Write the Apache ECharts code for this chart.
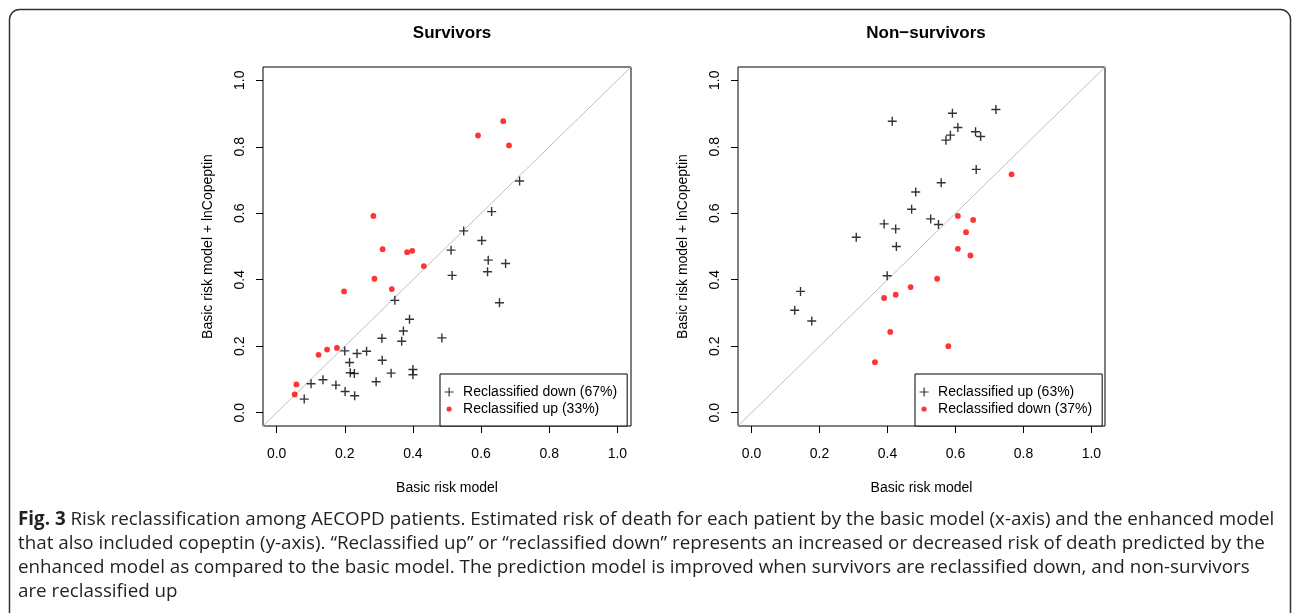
<!DOCTYPE html>
<html>
<head>
<meta charset="utf-8">
<script src="https://cdn.jsdelivr.net/npm/echarts@6/dist/echarts.min.js"></script>
<style>
html,body{margin:0;padding:0;background:#fff;}
#c{width:1292px;height:613px;}
</style>
</head>
<body>
<div id="c"></div>
<script>
// ---- data ----
const TICKS = [0, 0.2, 0.4, 0.6, 0.8, 1.0];
const AXIS_RANGE = [-0.04, 1.04];
const DIAGONAL = [[-0.04, -0.04], [1.04, 1.04]];

const titles = ['Survivors', 'Non\u2212survivors'];
const xTitle = 'Basic risk model';
const yTitle = 'Basic risk model + lnCopeptin';

const survivorsDownName = 'Reclassified down (67%)';
const survivorsUpName = 'Reclassified up (33%)';
const nonSurvivorsUpName = 'Reclassified up (63%)';
const nonSurvivorsDownName = 'Reclassified down (37%)';

// Survivors, reclassified down (crosses)
const survivorsDown = [
  [0.713, 0.697], [0.631, 0.605], [0.549, 0.547], [0.602, 0.518], [0.512, 0.489],
  [0.621, 0.459], [0.672, 0.449], [0.619, 0.424], [0.515, 0.413], [0.654, 0.331],
  [0.347, 0.338], [0.390, 0.281], [0.372, 0.246], [0.367, 0.215], [0.485, 0.225],
  [0.309, 0.224], [0.200, 0.186], [0.236, 0.178], [0.264, 0.185], [0.214, 0.151],
  [0.310, 0.158], [0.216, 0.120], [0.228, 0.118], [0.336, 0.119], [0.400, 0.130],
  [0.400, 0.114], [0.292, 0.093], [0.136, 0.099], [0.101, 0.087], [0.174, 0.083],
  [0.201, 0.064], [0.229, 0.051], [0.081, 0.041]
];
// Survivors, reclassified up (red dots)
const survivorsUp = [
  [0.665, 0.877], [0.591, 0.834], [0.682, 0.804], [0.284, 0.592], [0.311, 0.492],
  [0.383, 0.483], [0.398, 0.487], [0.432, 0.441], [0.287, 0.403], [0.338, 0.372],
  [0.198, 0.365], [0.177, 0.195], [0.148, 0.190], [0.123, 0.174], [0.058, 0.085],
  [0.053, 0.055]
];
// Non-survivors, reclassified up (crosses)
const nonSurvivorsUp = [
  [0.414, 0.877], [0.591, 0.901], [0.719, 0.912], [0.607, 0.858], [0.659, 0.845],
  [0.674, 0.831], [0.585, 0.835], [0.572, 0.820], [0.661, 0.732], [0.558, 0.692],
  [0.483, 0.664], [0.471, 0.612], [0.390, 0.568], [0.424, 0.553], [0.527, 0.583],
  [0.550, 0.566], [0.308, 0.528], [0.426, 0.500], [0.399, 0.412], [0.144, 0.365],
  [0.127, 0.308], [0.177, 0.276]
];
// Non-survivors, reclassified down (red dots)
const nonSurvivorsDown = [
  [0.765, 0.717], [0.607, 0.592], [0.652, 0.580], [0.631, 0.543], [0.607, 0.493],
  [0.644, 0.473], [0.546, 0.403], [0.468, 0.378], [0.424, 0.355], [0.390, 0.345],
  [0.408, 0.243], [0.579, 0.200], [0.363, 0.152]
];

const captionLines = [
  '{b|Fig. 3} Risk reclassification among AECOPD patients. Estimated risk of death for each patient by the basic model (x-axis) and the enhanced model',
  'that also included copeptin (y-axis). \u201cReclassified up\u201d or \u201creclassified down\u201d represents an increased or decreased risk of death predicted by the',
  'enhanced model as compared to the basic model. The prediction model is improved when survivors are reclassified down, and non-survivors',
  'are reclassified up'
];

// ---- styling ----
const FONT = 'Liberation Sans, Arial, Helvetica, sans-serif';
const CAP_FONT = 'Open Sans, Noto Sans, sans-serif';
const CROSS = 'path://M0,-1L0,1M-1,0L1,0';
const DOT_ICON = 'path://M-5,-5L-5,-5M5,5L5,5M2.9,0A2.9,2.9,0,1,1,-2.9,0A2.9,2.9,0,1,1,2.9,0Z';

const grids = [
  {left: 263, top: 67, width: 368, height: 359, show: true, borderColor: '#000', borderWidth: 1, backgroundColor: 'transparent'},
  {left: 738, top: 67, width: 367, height: 359, show: true, borderColor: '#000', borderWidth: 1, backgroundColor: 'transparent'}
];

function makeX(i) {
  return {
    type: 'value', gridIndex: i, min: AXIS_RANGE[0], max: AXIS_RANGE[1],
    name: xTitle, nameLocation: 'middle', nameGap: 55,
    nameTextStyle: {fontFamily: FONT, fontSize: 14, color: '#000'},
    axisLine: {show: false, onZero: false},
    axisTick: {show: true, length: 7, customValues: TICKS, lineStyle: {color: '#000', width: 1}},
    axisLabel: {customValues: TICKS, formatter: v => v.toFixed(1), margin: 21, fontFamily: FONT, fontSize: 14, color: '#000'},
    splitLine: {show: false}
  };
}
function makeY(i) {
  return {
    type: 'value', gridIndex: i, min: AXIS_RANGE[0], max: AXIS_RANGE[1],
    name: yTitle, nameLocation: 'middle', nameGap: 48,
    nameTextStyle: {fontFamily: FONT, fontSize: 14, color: '#000'},
    axisLine: {show: false, onZero: false},
    axisTick: {show: true, length: 7, customValues: TICKS, lineStyle: {color: '#000', width: 1}},
    axisLabel: {customValues: TICKS, formatter: v => v.toFixed(1), rotate: 90, margin: 16, fontFamily: FONT, fontSize: 14, color: '#000'},
    splitLine: {show: false}
  };
}

function diagSeries(i) {
  return {type: 'line', xAxisIndex: i, yAxisIndex: i, data: DIAGONAL, symbol: 'none', silent: true,
    lineStyle: {color: '#BEBEBE', width: 1}, z: 1};
}
function crossSeries(name, data, i) {
  return {type: 'scatter', name: name, xAxisIndex: i, yAxisIndex: i, data: data,
    symbol: CROSS, symbolSize: 9, silent: true,
    itemStyle: {color: 'transparent', borderColor: '#000', borderWidth: 1.4}, z: 3};
}
function dotSeries(name, data, i) {
  return {type: 'scatter', name: name, xAxisIndex: i, yAxisIndex: i, data: data,
    symbol: 'circle', symbolSize: 5.8, silent: true,
    itemStyle: {color: '#FF0000', borderWidth: 0}, z: 3};
}
function makeLegend(left, names, pad) {
  return {
    orient: 'vertical', left: left, top: 374, padding: pad,
    itemWidth: 18, itemHeight: 9, itemGap: 3,
    borderColor: '#000', borderWidth: 1, backgroundColor: '#fff',
    selectedMode: false,
    itemStyle: {borderWidth: 1.2},
    textStyle: {fontFamily: FONT, fontSize: 14, color: '#000', lineHeight: 14},
    data: [
      {name: names[0], icon: CROSS},
      {name: names[1], icon: DOT_ICON, itemStyle: {borderWidth: 0}}
    ]
  };
}

const chart = echarts.init(document.getElementById('c'), null, {renderer: 'canvas'});
chart.setOption({
  backgroundColor: '#fff',
  animation: false,
  title: [
    {text: titles[0], left: 447, top: 20, textAlign: 'center',
     textStyle: {fontFamily: FONT, fontSize: 17, fontWeight: 'bold', color: '#000'}},
    {text: titles[1], left: 921, top: 20, textAlign: 'center',
     textStyle: {fontFamily: FONT, fontSize: 17, fontWeight: 'bold', color: '#000'}}
  ],
  grid: grids,
  xAxis: [makeX(0), makeX(1)],
  yAxis: [makeY(0), makeY(1)],
  legend: [
    makeLegend(440, [survivorsDownName, survivorsUpName], [11, 10, 10, 4]),
    makeLegend(915, [nonSurvivorsUpName, nonSurvivorsDownName], [11, 10, 10, 4])
  ],
  series: [
    diagSeries(0),
    crossSeries(survivorsDownName, survivorsDown, 0),
    dotSeries(survivorsUpName, survivorsUp, 0),
    diagSeries(1),
    crossSeries(nonSurvivorsUpName, nonSurvivorsUp, 1),
    dotSeries(nonSurvivorsDownName, nonSurvivorsDown, 1)
  ],
  graphic: [
    {type: 'rect', silent: true, z: -1,
     shape: {x: 9.5, y: 9.5, width: 1281, height: 700, r: 10},
     style: {fill: 'none', stroke: '#333', lineWidth: 1.5}},
    ...captionLines.map((t, k) => ({
      type: 'text', silent: true, left: 18, top: 510 + k * 24,
      style: {text: t, fontFamily: CAP_FONT, fontSize: 18.8, fill: '#231f20',
              rich: {b: {fontWeight: 'bold', fontFamily: CAP_FONT, fontSize: 18.8, fill: '#231f20'}}}
    }))
  ]
});
</script>
</body>
</html>
